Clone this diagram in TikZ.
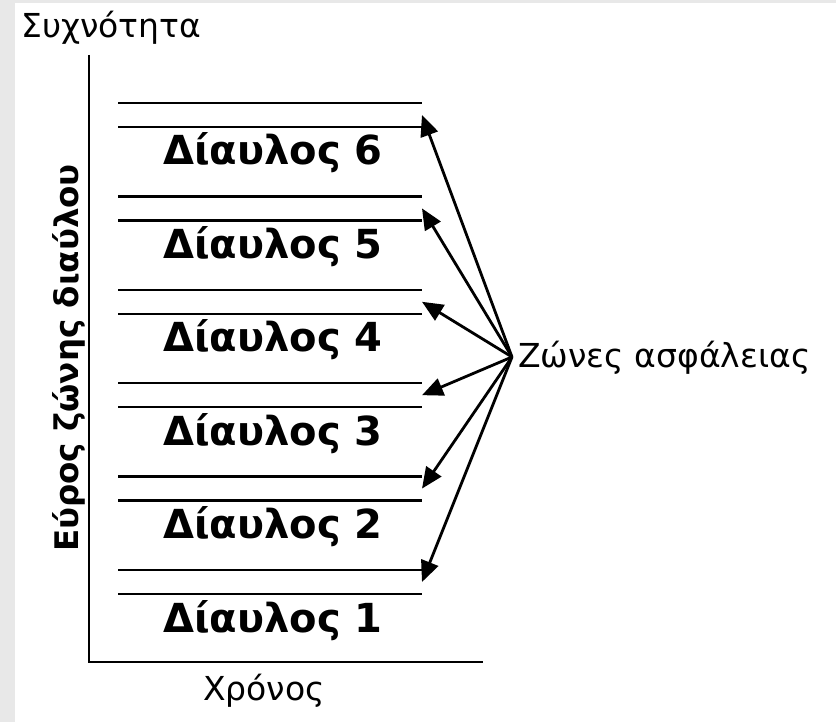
\documentclass[tikz,border=0pt]{standalone}
\usepackage{fontspec}
\setmainfont{DejaVu Sans}
\usetikzlibrary{arrows.meta}
\begin{document}
\begin{tikzpicture}[x=1pt,y=-1pt,
    band/.style={line width=2.5pt},
    guard/.style={line width=2.8pt,-{Triangle[length=21pt,width=18pt]}},
    chan/.style={anchor=base west,inner sep=0pt,font=\fontsize{40}{46}\bfseries\selectfont},
    lbl/.style={inner sep=0pt,font=\fontsize{33}{40}\selectfont}]
    \fill[black!9] (0,0) rectangle (836,722);
    \fill[white] (15,3) rectangle (836,722);
    \useasboundingbox (0,0) rectangle (836,722);
    \path (89,55) coordinate (top)
    (89,662) coordinate (O)
    (483,662) coordinate (right)
    (512,357) coordinate (hub);
    \draw[line width=2.8pt] (top)--(O)--(right);
    \node[lbl,anchor=base west] (freq) at (21,38) {Συχνότητα};
    \node[lbl,anchor=base] (time) at (264,700) {Χρόνος};
    \node[lbl,anchor=base,rotate=90,font=\fontsize{32.5}{38}\bfseries\selectfont] (bw) at (78,358) {Εύρος ζώνης διαύλου};
    \node[lbl,anchor=base west] (guardlbl) at (518,367) {Ζώνες ασφάλειας};
    \foreach \i in {1,...,6}{
        \pgfmathsetmacro{\yy}{103+(6-\i)*93.4}
        \draw[band] (118,\yy) -- (422,\yy) (118,\yy+24) -- (422,\yy+24);
        \coordinate (g\i) at (422,\yy+12);
        \node[chan] (ch\i) at (163,\yy+62) {Δίαυλος \i};
    }
    \foreach \i in {1,...,6}
        \draw[guard] (hub) -- (g\i);
\end{tikzpicture}
\end{document}
